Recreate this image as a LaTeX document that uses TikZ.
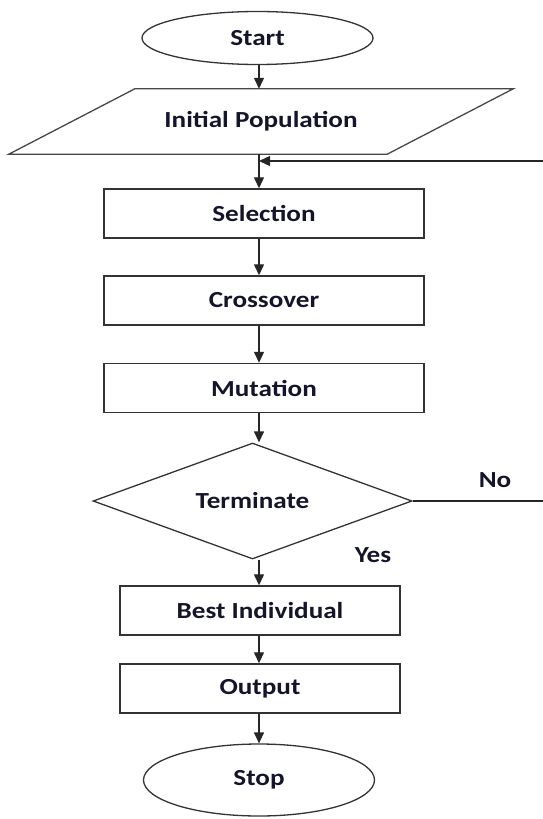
\documentclass[tikz,border=0pt]{standalone}
\usepackage{fontspec}
\usepackage{graphicx}
\setmainfont{Carlito}
\usetikzlibrary{shapes.geometric,arrows.meta,calc}
\definecolor{edge}{HTML}{333333}
\definecolor{txt}{HTML}{14142A}
\newcommand{\lbl}[1]{\scalebox{1.18}[1]{#1}}
\tikzset{
  base/.style={font=\fontsize{23}{27}\selectfont\bfseries, text=txt, inner sep=0pt},
  term/.style={base, draw=edge, line width=1.3pt, ellipse, minimum width=231pt},
  proc/.style={base, draw=edge, line width=1.4pt, rectangle, minimum height=49pt},
  dec/.style={base, draw=edge, line width=1.3pt, diamond, aspect=2.75, minimum width=319pt, minimum height=116pt},
  conn/.style={draw=black!85, line width=1.3pt},
  arr/.style={conn, -{Triangle[width=10pt,length=11pt]}}
}
\begin{document}
\begin{tikzpicture}[x=1pt,y=-1pt]
\useasboundingbox (0,0) rectangle (543,819);
\coordinate (sp) at (259,0);
% nodes
\node[term, minimum height=53pt] (start) at (257.5,38) {\lbl{Start}};
\node[base, minimum width=378pt, minimum height=65pt] (init) at (261,121.5) {\lbl{Initial Population}};
\draw[draw=edge!90, line width=1.3pt]
  ($(init.north west)+(63,0)$) -- ($(init.north east)+(63,0)$) --
  ($(init.south east)+(-63,0)$) -- ($(init.south west)+(-63,0)$) -- cycle;
\node[proc, minimum width=320pt] (sel) at (264,213.5) {\lbl{Selection}};
\node[proc, minimum width=320pt] (cross) at (264,300.5) {\lbl{Crossover}};
\node[proc, minimum width=320pt] (mut) at (264,388) {\lbl{Mutation}};
\node[dec] (term) at (252.5,501) {\lbl{Terminate}};
\node[proc, minimum width=280pt] (best) at (260,610.5) {\lbl{Best Individual}};
\node[proc, minimum width=280pt] (out) at (260,688.5) {\lbl{Output}};
\node[term, minimum height=72pt] (stop) at (259,780) {\lbl{Stop}};
\node[base] (no) at (495,480) {\lbl{No}};
\node[base] (yes) at (373,555) {\lbl{Yes}};
% connectors
\coordinate (fb) at (259,161);
\coordinate (fbin) at (543,161);
\coordinate (noend) at (543,501);
\draw[arr] (start.south -| sp) -- (init.north -| sp);
\draw[arr] (init.south -| sp) -- (sel.north -| sp);
\draw[arr] (fbin) -- (fb);
\draw[arr] (sel.south -| sp) -- (cross.north -| sp);
\draw[arr] (cross.south -| sp) -- (mut.north -| sp);
\draw[arr] (mut.south -| sp) -- (term.north -| sp);
\draw[conn] (term.east) -- (noend);
\draw[arr] (term.south -| sp) -- (best.north -| sp);
\draw[arr] (best.south -| sp) -- (out.north -| sp);
\draw[arr] (out.south -| sp) -- (stop.north -| sp);
\end{tikzpicture}
\end{document}
